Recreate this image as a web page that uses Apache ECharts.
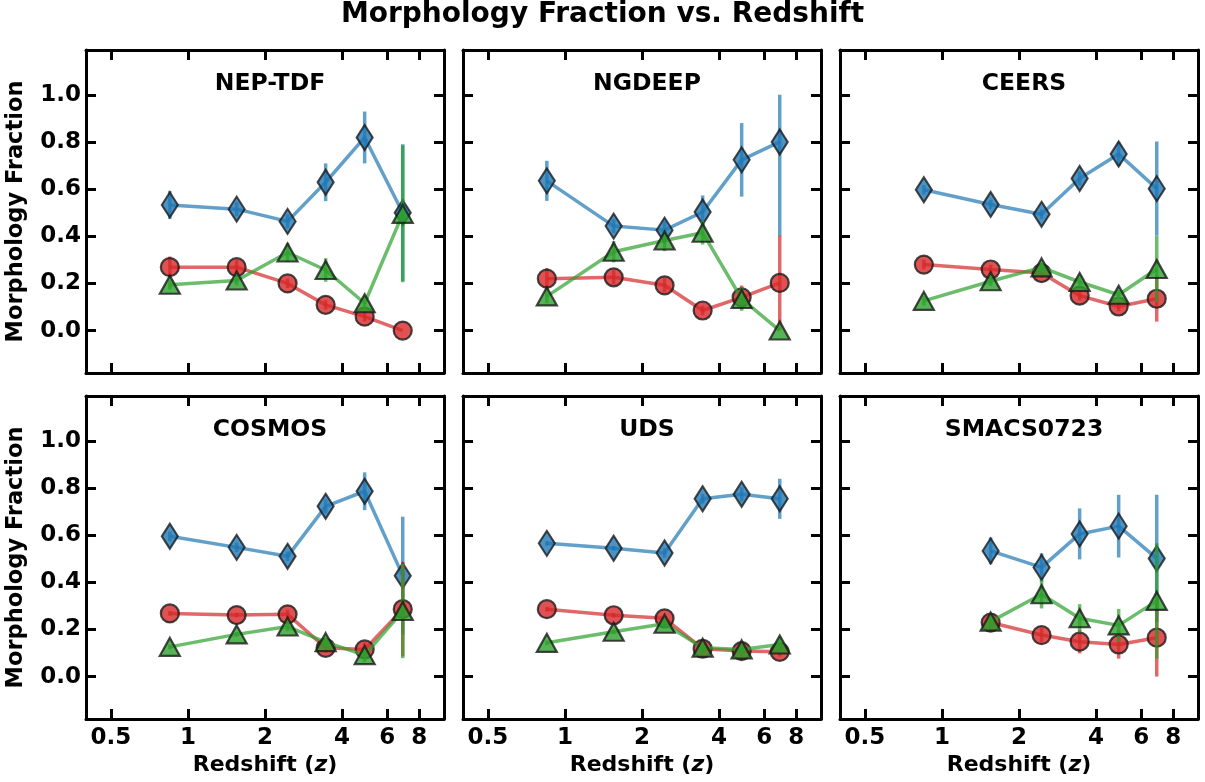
<!DOCTYPE html>
<html><head><meta charset="utf-8">
<script src="https://cdn.jsdelivr.net/npm/echarts@6/dist/echarts.min.js"></script>
<style>html,body{margin:0;padding:0;background:#fff}#c{width:1205px;height:782px}</style>
</head><body><div id="c"></div>
<script>
// ---------- DATA ----------
const fields = ['NEP-TDF', 'NGDEEP', 'CEERS', 'COSMOS', 'UDS', 'SMACS0723'];
const redshift = [0.85, 1.55, 2.45, 3.45, 4.9, 6.9];
const xTickValues = [0.5, 1, 2, 4, 6, 8];
const xTickLabels = ['0.5', '1', '2', '4', '6', '8'];
const yTickValues = [0, 0.2, 0.4, 0.6, 0.8, 1.0];
const yTickLabels = ['0.0', '0.2', '0.4', '0.6', '0.8', '1.0'];

// NEP-TDF
const nepDiamond = [0.533, 0.515, 0.463, 0.629, 0.819, 0.50];
const nepDiamondErr = [0.06, 0.03, 0.03, 0.08, 0.11, 0.29];
const nepCircle = [0.269, 0.269, 0.20, 0.109, 0.059, 0.0];
const nepCircleErr = [0.045, 0.03, 0.02, 0.02, 0.02, 0.0];
const nepTriangle = [0.194, 0.212, 0.331, 0.257, 0.116, 0.495];
const nepTriangleErr = [0.02, 0.02, 0.04, 0.05, 0.03, 0.29];
// NGDEEP
const ngdDiamond = [0.635, 0.443, 0.426, 0.503, 0.724, 0.80];
const ngdDiamondErr = [0.085, 0.03, 0.04, 0.07, 0.156, 0.40];
const ngdCircle = [0.22, 0.226, 0.192, 0.085, 0.141, 0.202];
const ngdCircleErr = [0.045, 0.03, 0.03, 0.02, 0.05, 0.20];
const ngdTriangle = [0.145, 0.334, 0.382, 0.415, 0.134, 0.0];
const ngdTriangleErr = [0.03, 0.045, 0.045, 0.05, 0.05, 0.0];
// CEERS
const ceeDiamond = [0.597, 0.535, 0.493, 0.645, 0.749, 0.602];
const ceeDiamondErr = [0.02, 0.02, 0.02, 0.03, 0.05, 0.20];
const ceeCircle = [0.28, 0.259, 0.244, 0.148, 0.102, 0.135];
const ceeCircleErr = [0.02, 0.02, 0.02, 0.02, 0.02, 0.097];
const ceeTriangle = [0.126, 0.209, 0.268, 0.206, 0.152, 0.261];
const ceeTriangleErr = [0.02, 0.02, 0.02, 0.02, 0.02, 0.14];
// COSMOS
const cosDiamond = [0.595, 0.548, 0.51, 0.722, 0.786, 0.428];
const cosDiamondErr = [0.02, 0.02, 0.02, 0.03, 0.08, 0.25];
const cosCircle = [0.268, 0.261, 0.264, 0.122, 0.115, 0.286];
const cosCircleErr = [0.01, 0.01, 0.02, 0.02, 0.03, 0.20];
const cosTriangle = [0.126, 0.179, 0.212, 0.146, 0.091, 0.278];
const cosTriangleErr = [0.01, 0.01, 0.02, 0.02, 0.03, 0.20];
// UDS
const udsDiamond = [0.565, 0.544, 0.524, 0.754, 0.773, 0.754];
const udsDiamondErr = [0.01, 0.01, 0.02, 0.02, 0.03, 0.085];
const udsCircle = [0.286, 0.26, 0.247, 0.118, 0.108, 0.105];
const udsCircleErr = [0.01, 0.01, 0.01, 0.02, 0.02, 0.02];
const udsTriangle = [0.143, 0.19, 0.224, 0.122, 0.115, 0.136];
const udsTriangleErr = [0.01, 0.01, 0.02, 0.02, 0.02, 0.03];
// SMACS0723 (no lowest-z bin)
const smaDiamond = [null, 0.533, 0.463, 0.605, 0.638, 0.501];
const smaDiamondErr = [null, 0.057, 0.06, 0.108, 0.133, 0.27];
const smaCircle = [null, 0.229, 0.176, 0.148, 0.136, 0.165];
const smaCircleErr = [null, 0.03, 0.03, 0.05, 0.06, 0.165];
const smaTriangle = [null, 0.233, 0.349, 0.247, 0.217, 0.321];
const smaTriangleErr = [null, 0.03, 0.06, 0.06, 0.07, 0.245];

// ---------- BUILD ----------
const panelData = [
  [nepDiamond, nepDiamondErr, nepCircle, nepCircleErr, nepTriangle, nepTriangleErr],
  [ngdDiamond, ngdDiamondErr, ngdCircle, ngdCircleErr, ngdTriangle, ngdTriangleErr],
  [ceeDiamond, ceeDiamondErr, ceeCircle, ceeCircleErr, ceeTriangle, ceeTriangleErr],
  [cosDiamond, cosDiamondErr, cosCircle, cosCircleErr, cosTriangle, cosTriangleErr],
  [udsDiamond, udsDiamondErr, udsCircle, udsCircleErr, udsTriangle, udsTriangleErr],
  [smaDiamond, smaDiamondErr, smaCircle, smaCircleErr, smaTriangle, smaTriangleErr]
];
const classes = [
  {name: 'diamond', color: '#1f77b4', symbol: 'diamond', size: [16, 25]},
  {name: 'circle', color: '#d62728', symbol: 'circle', size: 18},
  {name: 'triangle', color: '#2ca02c', symbol: 'triangle', size: [20, 18]}
];
const FONT = 'DejaVu Sans';
const colLeft = [86, 463, 840];
const colWidth = 358;
const rowTop = [50, 396];
const rowHeight = 323;
const xMin = Math.log10(0.4), xMax = 1;
const yMin = -0.18, yMax = 1.19;
const xTickLog = xTickValues.map(v => Math.log10(v));

function xLabel(v) {
  let best = 0, bd = 1e9;
  xTickLog.forEach((t, k) => { const d = Math.abs(t - v); if (d < bd) { bd = d; best = k; } });
  return xTickLabels[best];
}
function yLabel(v) {
  let best = 0, bd = 1e9;
  yTickValues.forEach((t, k) => { const d = Math.abs(t - v); if (d < bd) { bd = d; best = k; } });
  return yTickLabels[best];
}

const grids = [], xAxes = [], yAxes = [], series = [], titles = [];
titles.push({
  text: 'Morphology Fraction vs. Redshift', left: 'center', top: -4,
  textStyle: {fontFamily: FONT, fontWeight: 'bold', fontSize: 28, color: '#000'}
});
const tickStyle = {show: true, inside: true, length: 10, lineStyle: {color: '#000', width: 3}};
const lineAx = {show: true, onZero: false, lineStyle: {color: '#000', width: 3}};

fields.forEach((f, i) => {
  const r = Math.floor(i / 3), c = i % 3;
  grids.push({left: colLeft[c], top: rowTop[r], width: colWidth, height: rowHeight, containLabel: false});
  titles.push({
    text: f, left: colLeft[c] + colWidth / 2, top: rowTop[r] + 17, textAlign: 'center',
    textStyle: {fontFamily: FONT, fontWeight: 'bold', fontSize: 23.5, color: '#000'}
  });
  const common = {gridIndex: i, type: 'value', min: xMin, max: xMax, splitLine: {show: false}, axisLine: lineAx};
  xAxes.push(Object.assign({}, common, {
    position: 'bottom',
    axisTick: Object.assign({customValues: xTickLog}, tickStyle),
    axisLabel: {show: r === 1, customValues: xTickLog, formatter: xLabel, margin: 8,
      fontFamily: FONT, fontWeight: 'bold', fontSize: 23, color: '#000'},
    name: r === 1 ? 'Redshift ({i|z})' : '', nameLocation: 'middle', nameGap: 35,
    nameTextStyle: {fontFamily: FONT, fontWeight: 'bold', fontSize: 22, color: '#000',
      rich: {i: {fontFamily: FONT, fontWeight: 'bold', fontStyle: 'italic', fontSize: 22, color: '#000'}}}
  }));
  xAxes.push(Object.assign({}, common, {
    position: 'top',
    axisTick: Object.assign({customValues: xTickLog}, tickStyle),
    axisLabel: {show: false}
  }));
  const ycommon = {gridIndex: i, type: 'value', min: yMin, max: yMax, splitLine: {show: false}, axisLine: lineAx};
  yAxes.push(Object.assign({}, ycommon, {
    position: 'left',
    axisTick: Object.assign({customValues: yTickValues}, tickStyle),
    axisLabel: {show: c === 0, customValues: yTickValues, formatter: yLabel, margin: 5,
      fontFamily: FONT, fontWeight: 'bold', fontSize: 23, color: '#000'},
    name: c === 0 ? 'Morphology Fraction' : '', nameLocation: 'middle', nameGap: 58,
    nameTextStyle: {fontFamily: FONT, fontWeight: 'bold', fontSize: 22.5, color: '#000'}
  }));
  yAxes.push(Object.assign({}, ycommon, {
    position: 'right',
    axisTick: Object.assign({customValues: yTickValues}, tickStyle),
    axisLabel: {show: false}
  }));

  const pd = panelData[i];
  classes.forEach((cls, k) => {
    const vals = pd[2 * k], errs = pd[2 * k + 1];
    const pts = [], bars = [];
    vals.forEach((v, j) => {
      if (v === null) return;
      const lx = Math.log10(redshift[j]);
      pts.push([lx, v]);
      const e = errs[j] || 0;
      if (e > 0) bars.push([lx, Math.max(0, v - e), Math.min(1, v + e)]);
    });
    series.push({
      type: 'custom', name: f + ' ' + cls.name + ' err', xAxisIndex: 2 * i, yAxisIndex: 2 * i,
      z: 2 + 2 * k, silent: true,
      encode: {x: 0, y: [1, 2]},
      data: bars,
      renderItem: function (params, api) {
        const p1 = api.coord([api.value(0), api.value(1)]);
        const p2 = api.coord([api.value(0), api.value(2)]);
        return {type: 'line', shape: {x1: p1[0], y1: p1[1], x2: p2[0], y2: p2[1]},
          style: {stroke: cls.color, lineWidth: 3.5, opacity: 0.7}};
      }
    });
    series.push({
      type: 'line', name: f + ' ' + cls.name, xAxisIndex: 2 * i, yAxisIndex: 2 * i,
      z: 3 + 2 * k, data: pts, symbol: cls.symbol, symbolSize: cls.size, showSymbol: true,
      lineStyle: {color: cls.color, width: 3.5, opacity: 0.7},
      itemStyle: {color: cls.color, opacity: 0.8, borderColor: '#1a1a1a', borderWidth: 2.2},
      emphasis: {disabled: true}
    });
  });
});

const chart = echarts.init(document.getElementById('c'), null, {renderer: 'canvas'});
chart.setOption({
  animation: false,
  backgroundColor: '#fff',
  title: titles,
  grid: grids,
  xAxis: xAxes,
  yAxis: yAxes,
  series: series
});
</script></body></html>
